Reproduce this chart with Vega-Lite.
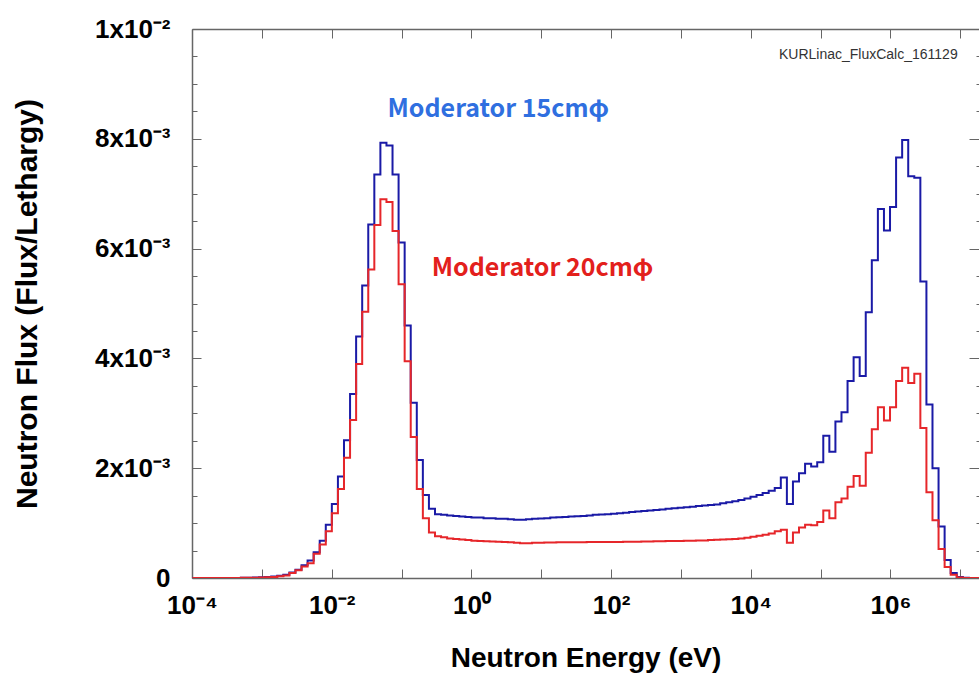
{
  "$schema": "https://vega.github.io/schema/vega-lite/v6.json",
  "width": 787,
  "height": 549,
  "autosize": {"type": "none"},
  "padding": {"left": 192, "top": 29, "right": 0, "bottom": 99},
  "background": "white",
  "config": {"view": {"stroke": null}, "font": "Liberation Sans"},
  "datasets": {
    "flux": [
      {"energy": 0.00010104, "m15": 0, "m20": 0},
      {"energy": 0.00012341, "m15": 0, "m20": 0},
      {"energy": 0.00015073, "m15": 0, "m20": 0},
      {"energy": 0.00018411, "m15": 2e-7, "m20": 1e-7},
      {"energy": 0.00022487, "m15": 5e-7, "m20": 4e-7},
      {"energy": 0.00027465, "m15": 8e-7, "m20": 6e-7},
      {"energy": 0.00033546, "m15": 1.2e-6, "m20": 1e-6},
      {"energy": 0.00040973, "m15": 2e-6, "m20": 1.5e-6},
      {"energy": 0.00050045, "m15": 3e-6, "m20": 2.5e-6},
      {"energy": 0.00061125, "m15": 5e-6, "m20": 4e-6},
      {"energy": 0.00074659, "m15": 8e-6, "m20": 6e-6},
      {"energy": 0.00091188, "m15": 1.2e-5, "m20": 9e-6},
      {"energy": 0.0011138, "m15": 1.8e-5, "m20": 1.4e-5},
      {"energy": 0.0013604, "m15": 2.7e-5, "m20": 2e-5},
      {"energy": 0.0016616, "m15": 4e-5, "m20": 3e-5},
      {"energy": 0.0020294, "m15": 6e-5, "m20": 4.5e-5},
      {"energy": 0.0024788, "m15": 1.0e-4, "m20": 9e-5},
      {"energy": 0.0030276, "m15": 1.5e-4, "m20": 1.4e-4},
      {"energy": 0.0036979, "m15": 2.3e-4, "m20": 2.1e-4},
      {"energy": 0.0045166, "m15": 3.2e-4, "m20": 2.7e-4},
      {"energy": 0.0055166, "m15": 4.7e-4, "m20": 4.4e-4},
      {"energy": 0.0067379, "m15": 6.8e-4, "m20": 6.1e-4},
      {"energy": 0.0082297, "m15": 9.7e-4, "m20": 8.5e-4},
      {"energy": 0.010052, "m15": 1.35e-3, "m20": 1.18e-3},
      {"energy": 0.012277, "m15": 1.85e-3, "m20": 1.62e-3},
      {"energy": 0.014996, "m15": 2.51e-3, "m20": 2.19e-3},
      {"energy": 0.018316, "m15": 3.35e-3, "m20": 2.88e-3},
      {"energy": 0.022371, "m15": 4.40e-3, "m20": 3.90e-3},
      {"energy": 0.027324, "m15": 5.33e-3, "m20": 4.85e-3},
      {"energy": 0.033373, "m15": 6.44e-3, "m20": 5.62e-3},
      {"energy": 0.040762, "m15": 7.35e-3, "m20": 6.43e-3},
      {"energy": 0.049787, "m15": 7.93e-3, "m20": 6.90e-3},
      {"energy": 0.06081, "m15": 7.88e-3, "m20": 6.85e-3},
      {"energy": 0.074274, "m15": 7.35e-3, "m20": 6.32e-3},
      {"energy": 0.090718, "m15": 6.11e-3, "m20": 5.35e-3},
      {"energy": 0.1108, "m15": 4.60e-3, "m20": 3.95e-3},
      {"energy": 0.13534, "m15": 3.19e-3, "m20": 2.57e-3},
      {"energy": 0.1653, "m15": 2.15e-3, "m20": 1.62e-3},
      {"energy": 0.2019, "m15": 1.51e-3, "m20": 1.09e-3},
      {"energy": 0.2466, "m15": 1.26e-3, "m20": 0.83e-3},
      {"energy": 0.30119, "m15": 1.16e-3, "m20": 0.76e-3},
      {"energy": 0.36788, "m15": 1.15e-3, "m20": 0.74e-3},
      {"energy": 0.44933, "m15": 1.14e-3, "m20": 0.72e-3},
      {"energy": 0.54881, "m15": 1.13e-3, "m20": 0.71e-3},
      {"energy": 0.67032, "m15": 1.12e-3, "m20": 0.70e-3},
      {"energy": 0.81873, "m15": 1.11e-3, "m20": 0.69e-3},
      {"energy": 1, "m15": 1.10e-3, "m20": 0.68e-3},
      {"energy": 1.2214, "m15": 1.10e-3, "m20": 0.675e-3},
      {"energy": 1.4918, "m15": 1.09e-3, "m20": 0.67e-3},
      {"energy": 1.8221, "m15": 1.09e-3, "m20": 0.665e-3},
      {"energy": 2.2255, "m15": 1.08e-3, "m20": 0.66e-3},
      {"energy": 2.7183, "m15": 1.08e-3, "m20": 0.655e-3},
      {"energy": 3.3201, "m15": 1.07e-3, "m20": 0.65e-3},
      {"energy": 4.0552, "m15": 1.06e-3, "m20": 0.64e-3},
      {"energy": 4.953, "m15": 1.06e-3, "m20": 0.635e-3},
      {"energy": 6.0496, "m15": 1.07e-3, "m20": 0.635e-3},
      {"energy": 7.3891, "m15": 1.08e-3, "m20": 0.64e-3},
      {"energy": 9.025, "m15": 1.085e-3, "m20": 0.64e-3},
      {"energy": 11.023, "m15": 1.09e-3, "m20": 0.645e-3},
      {"energy": 13.464, "m15": 1.10e-3, "m20": 0.645e-3},
      {"energy": 16.445, "m15": 1.105e-3, "m20": 0.65e-3},
      {"energy": 20.086, "m15": 1.11e-3, "m20": 0.65e-3},
      {"energy": 24.533, "m15": 1.12e-3, "m20": 0.65e-3},
      {"energy": 29.964, "m15": 1.125e-3, "m20": 0.652e-3},
      {"energy": 36.598, "m15": 1.13e-3, "m20": 0.652e-3},
      {"energy": 44.701, "m15": 1.14e-3, "m20": 0.654e-3},
      {"energy": 54.598, "m15": 1.15e-3, "m20": 0.654e-3},
      {"energy": 66.686, "m15": 1.155e-3, "m20": 0.656e-3},
      {"energy": 81.451, "m15": 1.16e-3, "m20": 0.656e-3},
      {"energy": 99.484, "m15": 1.17e-3, "m20": 0.658e-3},
      {"energy": 121.51, "m15": 1.18e-3, "m20": 0.658e-3},
      {"energy": 148.41, "m15": 1.19e-3, "m20": 0.66e-3},
      {"energy": 181.27, "m15": 1.20e-3, "m20": 0.66e-3},
      {"energy": 221.41, "m15": 1.21e-3, "m20": 0.662e-3},
      {"energy": 270.43, "m15": 1.22e-3, "m20": 0.664e-3},
      {"energy": 330.3, "m15": 1.23e-3, "m20": 0.666e-3},
      {"energy": 403.43, "m15": 1.24e-3, "m20": 0.668e-3},
      {"energy": 492.75, "m15": 1.25e-3, "m20": 0.67e-3},
      {"energy": 601.85, "m15": 1.26e-3, "m20": 0.672e-3},
      {"energy": 735.1, "m15": 1.27e-3, "m20": 0.674e-3},
      {"energy": 897.85, "m15": 1.28e-3, "m20": 0.676e-3},
      {"energy": 1096.6, "m15": 1.29e-3, "m20": 0.678e-3},
      {"energy": 1339.4, "m15": 1.30e-3, "m20": 0.68e-3},
      {"energy": 1636, "m15": 1.31e-3, "m20": 0.682e-3},
      {"energy": 1998.2, "m15": 1.32e-3, "m20": 0.685e-3},
      {"energy": 2440.6, "m15": 1.33e-3, "m20": 0.69e-3},
      {"energy": 2981, "m15": 1.34e-3, "m20": 0.695e-3},
      {"energy": 3641, "m15": 1.36e-3, "m20": 0.70e-3},
      {"energy": 4447.1, "m15": 1.38e-3, "m20": 0.705e-3},
      {"energy": 5431.7, "m15": 1.40e-3, "m20": 0.71e-3},
      {"energy": 6634.2, "m15": 1.42e-3, "m20": 0.72e-3},
      {"energy": 8103.1, "m15": 1.45e-3, "m20": 0.735e-3},
      {"energy": 9897.1, "m15": 1.48e-3, "m20": 0.75e-3},
      {"energy": 12088, "m15": 1.51e-3, "m20": 0.77e-3},
      {"energy": 14765, "m15": 1.55e-3, "m20": 0.79e-3},
      {"energy": 18034, "m15": 1.59e-3, "m20": 0.81e-3},
      {"energy": 22026, "m15": 1.64e-3, "m20": 0.85e-3},
      {"energy": 26903, "m15": 1.83e-3, "m20": 0.88e-3},
      {"energy": 32860, "m15": 1.35e-3, "m20": 0.64e-3},
      {"energy": 40135, "m15": 1.76e-3, "m20": 0.83e-3},
      {"energy": 49021, "m15": 1.91e-3, "m20": 0.92e-3},
      {"energy": 59874, "m15": 2.08e-3, "m20": 0.97e-3},
      {"energy": 73130, "m15": 2.03e-3, "m20": 0.96e-3},
      {"energy": 89322, "m15": 2.11e-3, "m20": 1.02e-3},
      {"energy": 109100, "m15": 2.59e-3, "m20": 1.23e-3},
      {"energy": 133250, "m15": 2.30e-3, "m20": 1.09e-3},
      {"energy": 162750, "m15": 2.85e-3, "m20": 1.38e-3},
      {"energy": 198790, "m15": 3.02e-3, "m20": 1.45e-3},
      {"energy": 242810, "m15": 3.59e-3, "m20": 1.66e-3},
      {"energy": 296570, "m15": 4.02e-3, "m20": 1.86e-3},
      {"energy": 362230, "m15": 3.68e-3, "m20": 1.68e-3},
      {"energy": 442410, "m15": 4.84e-3, "m20": 2.28e-3},
      {"energy": 540370, "m15": 5.79e-3, "m20": 2.71e-3},
      {"energy": 660030, "m15": 6.72e-3, "m20": 3.11e-3},
      {"energy": 806140, "m15": 6.33e-3, "m20": 2.87e-3},
      {"energy": 984620, "m15": 6.76e-3, "m20": 3.11e-3},
      {"energy": 1202600, "m15": 7.66e-3, "m20": 3.59e-3},
      {"energy": 1468900, "m15": 7.98e-3, "m20": 3.83e-3},
      {"energy": 1794100, "m15": 7.32e-3, "m20": 3.55e-3},
      {"energy": 2191300, "m15": 7.29e-3, "m20": 3.72e-3},
      {"energy": 2676500, "m15": 5.40e-3, "m20": 2.73e-3},
      {"energy": 3269000, "m15": 3.16e-3, "m20": 1.56e-3},
      {"energy": 3992800, "m15": 2.00e-3, "m20": 1.05e-3},
      {"energy": 4876800, "m15": 0.94e-3, "m20": 0.53e-3},
      {"energy": 5956500, "m15": 0.33e-3, "m20": 0.20e-3},
      {"energy": 7275200, "m15": 0.09e-3, "m20": 0.06e-3},
      {"energy": 8886100, "m15": 0.02e-3, "m20": 0.01e-3},
      {"energy": 10853000, "m15": 0.005e-3, "m20": 0},
      {"energy": 13256000, "m15": 0, "m20": 0},
      {"energy": 16191000, "m15": 0, "m20": 0},
      {"energy": 19777000, "m15": 0, "m20": 0}
    ],
    "notes15": [{"energy": 0.063, "flux": 0.00855, "label": "Moderator 15cmφ"}],
    "notes20": [{"energy": 0.27, "flux": 0.00565, "label": "Moderator 20cmφ"}],
    "stamp": [{"energy": 9.16e6, "flux": 0.00953, "label": "KURLinac_FluxCalc_161129"}]
  },
  "layer": [
    {
      "data": {"name": "flux"},
      "transform": [{"fold": ["m15", "m20"], "as": ["series", "flux"]}],
      "mark": {"type": "line", "interpolate": "step-after", "strokeWidth": 2, "clip": true},
      "encoding": {
        "x": {
          "field": "energy", "type": "quantitative",
          "scale": {"type": "log", "domain": [0.0001, 18500000], "nice": false},
          "axis": {
            "orient": "bottom",
            "values": [0.0001, 0.001, 0.01, 0.1, 1, 10, 100, 1000, 10000, 100000, 1000000, 10000000],
            "labelExpr": "datum.value < 0.0002 ? '10⁻⁴' : datum.value < 0.002 ? '' : datum.value < 0.02 ? '10⁻²' : datum.value < 0.2 ? '' : datum.value < 2 ? '10⁰' : datum.value < 20 ? '' : datum.value < 200 ? '10²' : datum.value < 2000 ? '' : datum.value < 20000 ? '10⁴' : datum.value < 200000 ? '' : datum.value < 2000000 ? '10⁶' : ''",
            "tickSize": -9, "tickColor": "#666666", "tickWidth": 1,
            "domainColor": "#666666", "domainWidth": 1.5,
            "labelFont": "Liberation Sans", "labelFontWeight": "bold", "labelFontSize": 26, "labelColor": "#000000",
            "labelPadding": 23, "labelFlush": false, "labelOverlap": false,
            "grid": false,
            "title": "Neutron Energy (eV)",
            "titleFont": "Liberation Sans", "titleFontWeight": "bold", "titleFontSize": 28, "titleColor": "#000000",
            "titlePadding": 26
          }
        },
        "y": {
          "field": "flux", "type": "quantitative",
          "scale": {"domain": [0, 0.01], "nice": false},
          "axis": {
            "orient": "left",
            "values": [0, 0.002, 0.004, 0.006, 0.008, 0.01],
            "labelExpr": "datum.value == 0 ? '0' : datum.value > 0.009 ? '1x10⁻²' : round(datum.value * 1000) + 'x10⁻³'",
            "tickSize": -9, "tickColor": "#666666", "tickWidth": 1,
            "domainColor": "#666666", "domainWidth": 1.5,
            "labelFont": "Liberation Sans", "labelFontWeight": "bold", "labelFontSize": 26, "labelColor": "#000000",
            "labelPadding": 31, "labelOverlap": false,
            "grid": false,
            "title": "Neutron Flux (Flux/Lethargy)",
            "titleFont": "Liberation Sans", "titleFontWeight": "bold", "titleFontSize": 30, "titleColor": "#000000",
            "titlePadding": 52
          }
        },
        "color": {
          "field": "series", "type": "nominal",
          "scale": {"domain": ["m15", "m20"], "range": ["#1a1aa6", "#e6262a"]},
          "legend": null
        }
      }
    },
    {
      "data": {"name": "flux"},
      "mark": {"type": "point", "opacity": 0},
      "encoding": {
        "x": {
          "field": "energy", "type": "quantitative",
          "axis": {
            "orient": "top",
            "values": [0.0001, 0.001, 0.01, 0.1, 1, 10, 100, 1000, 10000, 100000, 1000000, 10000000],
            "labels": false, "tickSize": -9, "tickColor": "#666666",
            "domainColor": "#666666", "domainWidth": 1.5, "grid": false, "title": null
          }
        },
        "y": {
          "field": "m15", "type": "quantitative",
          "axis": {
            "orient": "left",
            "values": [0.0005, 0.001, 0.0015, 0.0025, 0.003, 0.0035, 0.0045, 0.005, 0.0055, 0.0065, 0.007, 0.0075, 0.0085, 0.009, 0.0095],
            "labels": false, "tickSize": -5, "tickColor": "#666666", "domain": false, "grid": false, "title": null
          }
        }
      }
    },
    {
      "data": {"name": "flux"},
      "mark": {"type": "point", "opacity": 0},
      "encoding": {
        "x": {"field": "energy", "type": "quantitative", "axis": null},
        "y": {
          "field": "m15", "type": "quantitative",
          "axis": {
            "orient": "right",
            "values": [0, 0.002, 0.004, 0.006, 0.008, 0.01],
            "labels": false, "tickSize": -10, "tickColor": "#666666", "domain": false, "grid": false, "title": null
          }
        }
      }
    },
    {
      "data": {"name": "flux"},
      "mark": {"type": "point", "opacity": 0},
      "encoding": {
        "x": {"field": "energy", "type": "quantitative", "axis": null},
        "y": {
          "field": "m15", "type": "quantitative",
          "axis": {
            "orient": "right",
            "values": [0.0005, 0.001, 0.0015, 0.0025, 0.003, 0.0035, 0.0045, 0.005, 0.0055, 0.0065, 0.007, 0.0075, 0.0085, 0.009, 0.0095],
            "labels": false, "tickSize": -3, "tickColor": "#666666", "domain": false, "grid": false, "title": null
          }
        }
      }
    },
    {
      "data": {"name": "notes15"},
      "mark": {"type": "text", "align": "left", "baseline": "middle", "font": "Noto Sans CJK JP", "fontWeight": "bold", "fontSize": 25, "color": "#2f6fe0"},
      "encoding": {
        "x": {"field": "energy", "type": "quantitative", "axis": null},
        "y": {"field": "flux", "type": "quantitative", "axis": null},
        "text": {"field": "label"}
      }
    },
    {
      "data": {"name": "notes20"},
      "mark": {"type": "text", "align": "left", "baseline": "middle", "font": "Noto Sans CJK JP", "fontWeight": "bold", "fontSize": 25, "color": "#e3201c"},
      "encoding": {
        "x": {"field": "energy", "type": "quantitative", "axis": null},
        "y": {"field": "flux", "type": "quantitative", "axis": null},
        "text": {"field": "label"}
      }
    },
    {
      "data": {"name": "stamp"},
      "mark": {"type": "text", "align": "right", "baseline": "middle", "font": "Liberation Sans", "fontSize": 14, "color": "#333333"},
      "encoding": {
        "x": {"field": "energy", "type": "quantitative", "axis": null},
        "y": {"field": "flux", "type": "quantitative", "axis": null},
        "text": {"field": "label"}
      }
    }
  ],
  "resolve": {"axis": {"x": "independent", "y": "independent"}}
}
